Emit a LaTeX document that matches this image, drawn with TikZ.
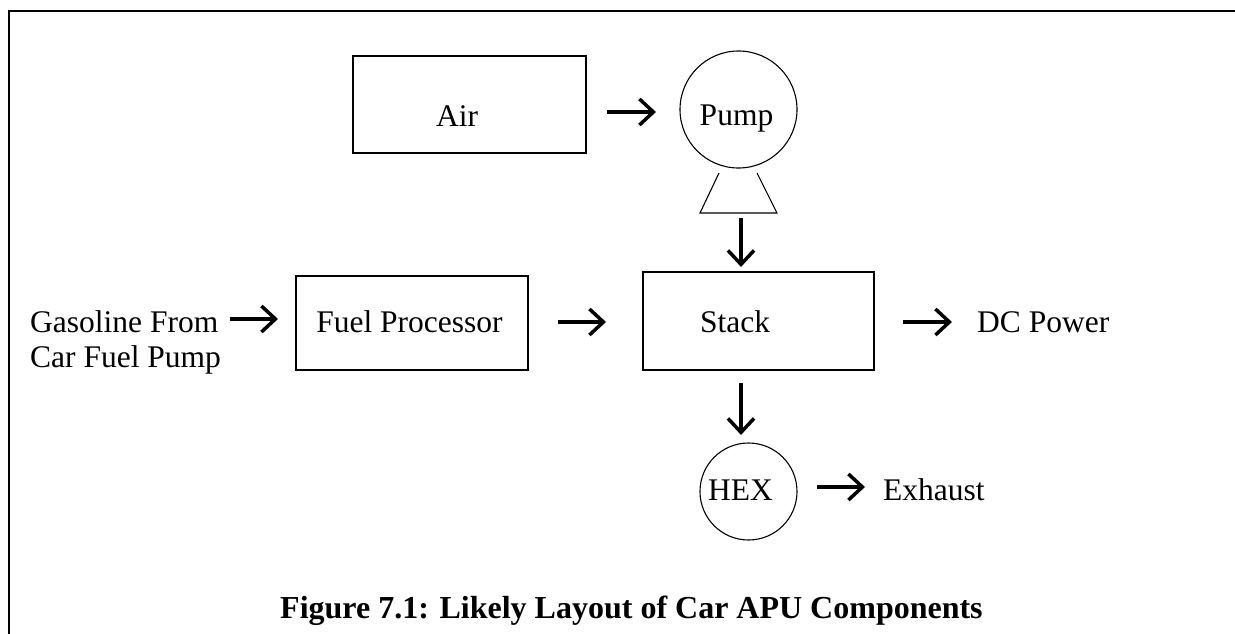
\documentclass[tikz,border=0pt]{standalone}
\usepackage{fontspec}
\setmainfont{Liberation Serif}
\usetikzlibrary{arrows.meta}
\begin{document}
\begin{tikzpicture}[x=1pt,y=-1pt,
  box/.style={draw,line width=1.5pt,inner sep=0pt},
  circ/.style={draw,circle,line width=1.1pt,inner sep=0pt},
  txt/.style={inner sep=0pt,font=\fontsize{31.5}{35}\selectfont},
  captxt/.style={inner sep=0pt,font=\fontsize{32}{36}\selectfont\bfseries},
  arr/.style={line width=3.5pt,-{Straight Barb[length=14pt,width=26pt]}}]
\useasboundingbox (0,0) rectangle (1235,634);
\draw[line width=2pt] (9,634) -- (9,11) -- (1235,11);
% top row
\node[box,minimum width=233pt,minimum height=97pt] (air) at (469.5,104.5) {};
\node[txt,anchor=base] (airlbl) at (457,126) {Air};
\node[circ,minimum size=117pt] (pump) at (738.5,109.5) {};
\node[txt,anchor=base] (pumplbl) at (736.5,125) {Pump};
\draw[line width=1.1pt] (719,173) -- (700,213) -- (777,213) -- (757,173);
% middle row
\node[txt,anchor=base west] (gas1) at (30,332) {Gasoline From};
\node[txt,anchor=base west] (gas2) at (30,367) {Car Fuel Pump};
\node[box,minimum width=232pt,minimum height=94pt] (fp) at (412,323) {};
\node[txt,anchor=base] (fplbl) at (409.5,332) {Fuel Processor};
\node[box,minimum width=231pt,minimum height=98pt] (stack) at (758.5,321) {};
\node[txt,anchor=base] (stacklbl) at (735,332) {Stack};
\node[txt,anchor=base west] (dc) at (977,332) {DC Power};
% bottom row
\node[circ,minimum size=97pt] (hex) at (748.5,491.5) {};
\node[txt,anchor=base] (hexlbl) at (740.5,500) {HEX};
\node[txt,anchor=base west] (exh) at (883,500) {Exhaust};
\node[captxt,anchor=base west] (cap) at (280,618) {Figure 7.1: Likely Layout of Car APU Components};
% arrows
\coordinate (a1s) at (607,112); \coordinate (a1e) at (656,112);
\coordinate (a2s) at (741,218); \coordinate (a2e) at (741,267);
\coordinate (a3s) at (230,319); \coordinate (a3e) at (278,319);
\coordinate (a4s) at (558,322); \coordinate (a4e) at (606,322);
\coordinate (a5s) at (903,322); \coordinate (a5e) at (952,322);
\coordinate (a6s) at (741,383); \coordinate (a6e) at (741,435);
\coordinate (a7s) at (817,487); \coordinate (a7e) at (865,487);
\draw[arr] (a1s) -- (a1e);
\draw[arr] (a2s) -- (a2e);
\draw[arr] (a3s) -- (a3e);
\draw[arr] (a4s) -- (a4e);
\draw[arr] (a5s) -- (a5e);
\draw[arr] (a6s) -- (a6e);
\draw[arr] (a7s) -- (a7e);
\end{tikzpicture}
\end{document}
